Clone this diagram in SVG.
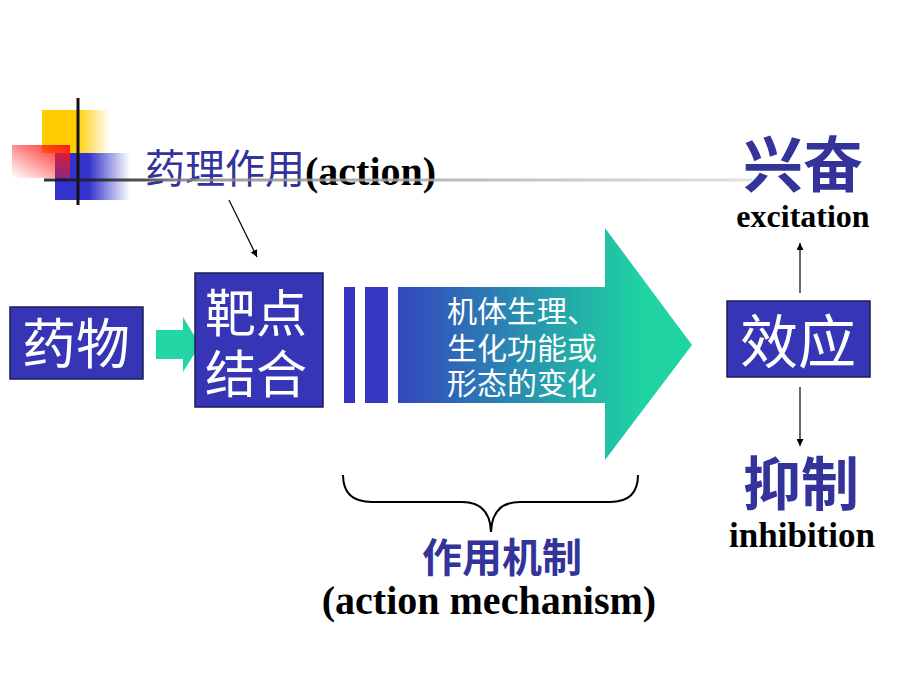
<svg xmlns="http://www.w3.org/2000/svg" width="920" height="690" viewBox="0 0 920 690">
<style>
.box{fill:#3535B5;stroke:#1c1c55;stroke-width:1.5}
.wt{fill:#ffffff;font-family:"Noto Sans CJK SC","Noto Sans",sans-serif}
.bt{fill:#333399;font-family:"Noto Sans CJK SC","Noto Sans",sans-serif}
.en{fill:#000000;font-family:"Liberation Serif",serif;font-weight:bold}
.ln{fill:none;stroke:#000;stroke-width:1.2}
</style>
<defs>
<linearGradient id="gy" x1="0" y1="0" x2="1" y2="0">
<stop offset="0" stop-color="#FFCC00"/><stop offset="0.5" stop-color="#FFCC00"/><stop offset="1" stop-color="#FFCC00" stop-opacity="0"/>
</linearGradient>
<linearGradient id="gr" x1="0" y1="1" x2="1" y2="0">
<stop offset="0" stop-color="#FF2020" stop-opacity="0"/><stop offset="1" stop-color="#FF1515"/>
</linearGradient>
<linearGradient id="gb" x1="0" y1="0" x2="1" y2="0">
<stop offset="0" stop-color="#3333CC"/><stop offset="0.45" stop-color="#3333CC"/><stop offset="1" stop-color="#3333CC" stop-opacity="0"/>
</linearGradient>
<linearGradient id="gl" gradientUnits="userSpaceOnUse" x1="44" y1="0" x2="752" y2="0">
<stop offset="0" stop-color="#111"/><stop offset="0.14" stop-color="#333"/><stop offset="0.2" stop-color="#888"/><stop offset="1" stop-color="#ddd"/>
</linearGradient>
<linearGradient id="ga" gradientUnits="userSpaceOnUse" x1="398" y1="0" x2="640" y2="0">
<stop offset="0" stop-color="#3346BE"/><stop offset="1" stop-color="#1FD3A2"/>
</linearGradient>
<marker id="ah" viewBox="0 0 10 10" refX="10" refY="5" markerWidth="7" markerHeight="7" orient="auto" markerUnits="userSpaceOnUse">
<path d="M0,0 L10,5 L0,10 z" fill="#000"/>
</marker>
</defs>
<rect width="920" height="690" fill="#ffffff"/>
<g id="decoration">
<rect x="42" y="110" width="68" height="43" fill="url(#gy)"/>
<rect x="55" y="153" width="75" height="47" fill="url(#gb)"/>
<rect x="12" y="145" width="58" height="33" fill="url(#gr)"/>
<line x1="78" y1="98" x2="78" y2="205" stroke="#111" stroke-width="3"/>
</g>
<g id="title">
<text x="145" y="183" font-size="40"><tspan class="bt">药理作用</tspan><tspan class="en" y="185">(action)</tspan></text>
<line x1="44" y1="180" x2="752" y2="180" stroke="url(#gl)" stroke-width="3" opacity="0.85"/>
</g>
<g id="connectors">
<path d="M156,330 L183,330 L183,317 L200,345 L183,372 L183,359 L156,359 z" fill="#22D6A6"/>
<line class="ln" x1="229" y1="200" x2="257" y2="257" marker-end="url(#ah)"/>
<line class="ln" x1="800" y1="293" x2="800" y2="243" marker-end="url(#ah)"/>
<line class="ln" x1="800" y1="387" x2="800" y2="446" marker-end="url(#ah)"/>
<path class="ln" style="stroke-width:2" d="M343,475 Q343,502 372,502 L462,502 Q490,502 491,532 Q492,502 520,502 L610,502 Q638,502 638,475"/>
</g>
<g id="node-drug">
<rect class="box" x="10" y="307" width="133" height="72"/>
<text class="wt" x="76" y="364" font-size="54" text-anchor="middle">药物</text>
</g>
<g id="node-target">
<rect class="box" x="195" y="273" width="128" height="134"/>
<text class="wt" x="256" y="332" font-size="51" text-anchor="middle">靶点</text>
<text class="wt" x="256" y="393" font-size="51" text-anchor="middle">结合</text>
</g>
<g id="node-change">
<rect x="344" y="287" width="11" height="116" fill="#3535C0"/>
<rect x="365" y="287" width="23" height="116" fill="#3538C0"/>
<path d="M398,287 L605,287 L605,228 L692,345 L605,460 L605,403 L398,403 z" fill="url(#ga)"/>
<text class="wt" x="447" y="322" font-size="30">机体生理、</text>
<text class="wt" x="447" y="359" font-size="30">生化功能或</text>
<text class="wt" x="447" y="394" font-size="30">形态的变化</text>
</g>
<g id="node-effect">
<rect class="box" x="727" y="301" width="143" height="76"/>
<text class="wt" x="798" y="363" font-size="58" text-anchor="middle">效应</text>
</g>
<g id="node-excitation">
<text class="bt" x="803" y="187" font-size="60" font-weight="bold" text-anchor="middle">兴奋</text>
<text class="en" x="803" y="227" font-size="32" text-anchor="middle">excitation</text>
</g>
<g id="node-inhibition">
<text class="bt" x="801" y="505" font-size="58" font-weight="bold" text-anchor="middle">抑制</text>
<text class="en" x="802" y="547" font-size="35" text-anchor="middle">inhibition</text>
</g>
<g id="mechanism">
<text class="bt" x="502" y="572" font-size="40" font-weight="bold" text-anchor="middle">作用机制</text>
<text class="en" x="489" y="614" font-size="40" text-anchor="middle">(action mechanism)</text>
</g>
</svg>
